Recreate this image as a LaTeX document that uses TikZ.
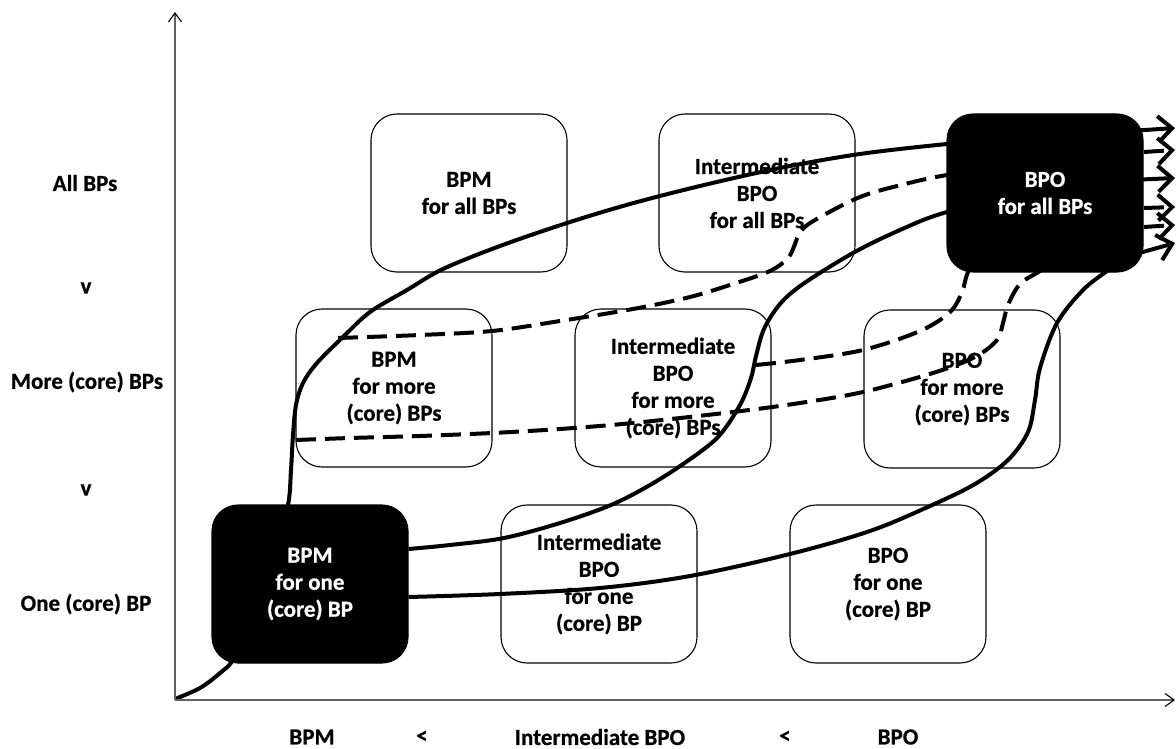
\documentclass[tikz,border=0pt]{standalone}
\usepackage{fontspec}
\setmainfont{Carlito}[BoldFont={Carlito Bold}, BoldFeatures={FakeBold=0.6}]
\usetikzlibrary{arrows.meta}
\pgfdeclarelayer{behind}
\pgfsetlayers{behind,main}
\begin{document}
\begin{tikzpicture}[x=1pt,y=-1pt,
  txt/.style={font=\fontsize{23}{27}\selectfont\bfseries, align=center, inner sep=0pt},
  box/.style={txt, draw=black, line width=1.1pt, rounded corners=26pt, minimum width=196pt, minimum height=158pt},
  wbox/.style={box},
  bbox/.style={box, fill=black, text=white},
  axisline/.style={draw=black!62, line width=1.4pt, -{Straight Barb[length=9pt,width=13pt,line width=1.1pt,color=black]}},
  curve/.style={line width=4pt, line join=round},
  dcurve/.style={curve, dash pattern=on 20pt off 9pt},
  stub/.style={line width=4pt, -{Straight Barb[length=14pt,width=26pt]}},
  dstub/.style={stub, dash pattern=on 20pt off 9pt},
]
\useasboundingbox (0,0) rectangle (1176,749);

% axes
\coordinate (O) at (175,700);
\coordinate (ytip) at (175,12);
\coordinate (xtip) at (1175,700);
\draw[axisline] (O) -- (ytip);
\draw[axisline] (O) -- (xtip);

% boxes
\node[wbox] (bpmall)  at (469,193) {BPM\\for all BPs};
\node[wbox] (ibpoall) at (757,193) {Intermediate\\BPO\\for all BPs};
\node[bbox] (bpoall)  at (1045,193) {BPO\\for all BPs};
\node[wbox] (bpmmore) at (394,388) {BPM\\for more\\(core) BPs};
\node[wbox] (ibpomore) at (673,388) {Intermediate\\BPO\\for more\\(core) BPs};
\node[wbox] (bpomore) at (962,389) {BPO\\for more\\(core) BPs};
\node[bbox] (bpmone)  at (310,584) {BPM\\for one\\(core) BP};
\node[wbox] (ibpoone) at (599,584) {Intermediate\\BPO\\for one\\(core) BP};
\node[wbox] (bpoone)  at (888,584) {BPO\\for one\\(core) BP};

% axis labels
\node[txt] (laball)  at (85,183) {All BPs};
\node[txt] (labv1)   at (86,288) {v};
\node[txt] (labmore) at (87,382) {More (core) BPs};
\node[txt] (labv2)   at (86,490) {v};
\node[txt] (labone)  at (86,604) {One (core) BP};
\node[txt] (labbpm)  at (312,737) {BPM};
\node[txt] (lablt1)  at (422,737) {<};
\node[txt] (labibpo) at (600,737) {Intermediate BPO};
\node[txt] (lablt2)  at (785,737) {<};
\node[txt] (labbpo)  at (898,737) {BPO};

% arrow tips
\coordinate (t1) at (1175,128);
\coordinate (t2) at (1175,150);
\coordinate (t3) at (1175,178);
\coordinate (t4) at (1175,207);
\coordinate (t5) at (1175,225);
\coordinate (t6) at (1175,243);

\begin{pgfonlayer}{behind}
% S1: origin -> BPM one -> up -> BPO all
\draw[curve] plot[smooth, tension=0.55] coordinates {(175,699) (200,688) (220,673) (234,658) (255,610) (275,550) (288,505) (291,470) (293,435) (296,405) (303,383) (317,363) (343,337) (370,312) (407,290) (443,269) (500,246) (567,223) (630,204) (700,186) (780,168) (860,154) (947,144) (1040,136) (1130,131)};
\draw[stub] (1130,131) -- (t1);
% S2
\draw[curve] plot[smooth, tension=0.55] coordinates {(bpmone.east |- 0,549) (450,545) (504,538) (560,523) (611,505) (650,485) (686,462) (718,437) (740,405) (751,378) (756,356) (764,329) (780,304) (803,284) (853,253) (900,230) (947,212) (1040,190) (1130,180)};
\draw[stub] (1130,180) -- (t3);
% S3
\draw[curve] plot[smooth, tension=0.55] coordinates {(bpmone.east |- 0,597) (500,594) (600,588) (690,576) (790,554) (870,531) (930,506) (975,484) (1008,460) (1028,432) (1035,400) (1040,368) (1057,323) (1083,290) (1107,271) (1125,258)};
\draw[stub] (1125,257) -- (t6);
% D1
\draw[dcurve] plot[smooth, tension=0.55] coordinates {(338,338) (420,335) (492,331) (560,321) (633,309) (690,297) (733,284) (770,271) (788,258) (795,244) (800,232) (815,220) (860,197) (905,184) (947,175) (1040,160) (1130,153)};
\draw[dstub] (1144,152) -- (t2);
% D2
\draw[dcurve] plot[smooth, tension=0.55] coordinates {(296,440) (350,438) (420,436) (492,433) (560,429) (633,423) (733,412) (800,403) (863,392) (933,373) (975,357) (997,340) (1003,323) (1008,305) (1020,284) (1040,271) (1090,240) (1130,228)};
\draw[dstub] (1144,227) -- (t5);
% D3
\draw[dcurve] plot[smooth, tension=0.55] coordinates {(756,365) (800,360) (863,350) (920,331) (950,312) (962,292) (968,272) (985,240) (1060,215) (1130,209)};
\draw[dstub] (1144,208) -- (t4);
\end{pgfonlayer}
\end{tikzpicture}
\end{document}
